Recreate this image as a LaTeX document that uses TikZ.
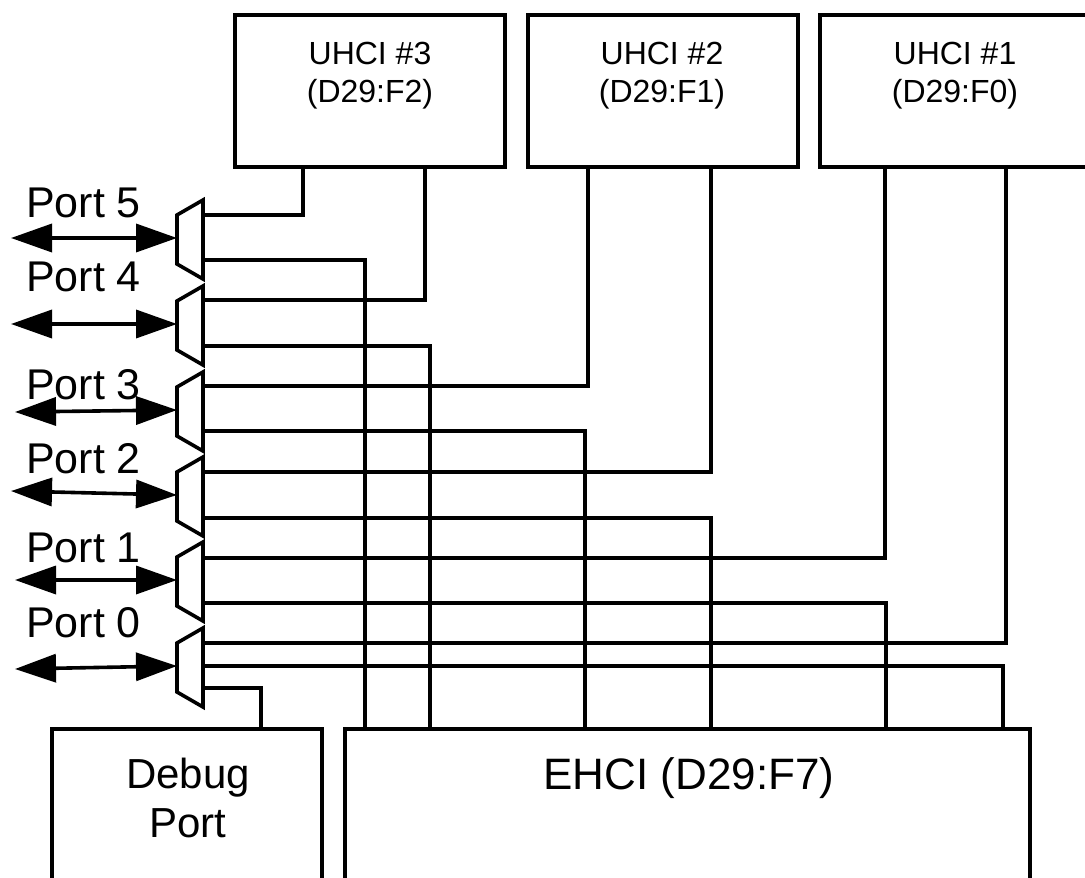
\documentclass[tikz,border=0pt]{standalone}
\usepackage{fontspec}
\setmainfont{Liberation Sans}
\usetikzlibrary{arrows.meta,calc}
\tikzset{
  x=1pt,y=-1pt,
  wire/.style={line width=3.6pt,line join=miter,black},
  boxnode/.style={draw=black,line width=4pt,anchor=north west,inner sep=0pt,outer sep=0pt,fill=none},
  port/.style={line width=3.6pt,black,{Triangle[length=41pt,width=28pt]}-{Triangle[length=41pt,width=28pt]}},
  portlabel/.style={font=\fontsize{43}{47}\selectfont,text=black,inner sep=0pt,anchor=base west},
  uhcilabel/.style={font=\fontsize{32}{38}\selectfont,text=black,align=center,inner sep=0pt},
  muxshape/.style={draw=black,line width=3.6pt,line join=miter,fill=white}
}
\newcommand{\muxat}[2]{%
  \coordinate (#1) at (177,#2);
  \draw[muxshape] ($(#1)+(0,-23)$) -- ($(#1)+(26,-38)$) -- ($(#1)+(26,41)$) -- ($(#1)+(0,26)$) -- cycle;
}
\begin{document}
\begin{tikzpicture}
\useasboundingbox (0,0) rectangle (1085,878);
\begin{scope}
\clip (0,0) rectangle (1085,878);
% boxes
\node[boxnode,minimum width=270pt,minimum height=152pt] (u3) at (235,15) {};
\node[boxnode,minimum width=270pt,minimum height=152pt] (u2) at (528,15) {};
\node[boxnode,minimum width=290pt,minimum height=152pt] (u1) at (820,15) {};
\node[boxnode,minimum width=270pt,minimum height=170pt] (dbg) at (52,729) {};
\node[boxnode,minimum width=685pt,minimum height=170pt] (eh) at (345,729) {};
\end{scope}
\node[uhcilabel] (t3) at (370,76) {UHCI \#3\\(D29:F2)};
\node[uhcilabel] (t2) at (662,76) {UHCI \#2\\(D29:F1)};
\node[uhcilabel] (t1) at (955,76) {UHCI \#1\\(D29:F0)};
\node[font=\fontsize{42}{49}\selectfont,text=black,align=center,inner sep=0pt] (t4) at (188,797.5) {Debug\\Port};
\node[font=\fontsize{44}{48}\selectfont,text=black,inner sep=0pt,anchor=base] (t5) at (689,789) {EHCI (D29:F7)};
% wire ends on the boxes
\coordinate (u3a) at (303,167);
\coordinate (u3b) at (425,167);
\coordinate (u2a) at (588,167);
\coordinate (u2b) at (711,167);
\coordinate (u1a) at (885,167);
\coordinate (u1b) at (1006,167);
\coordinate (e5) at (365,729);
\coordinate (e4) at (430,729);
\coordinate (e3) at (585,729);
\coordinate (e2) at (711,729);
\coordinate (e1) at (886,729);
\coordinate (e0) at (1003,729);
\coordinate (dbgt) at (261,729);
% wires
\coordinate (a5) at (203,215); \coordinate (b5) at (203,260);
\coordinate (a4) at (203,300); \coordinate (b4) at (203,346);
\coordinate (a3) at (203,386); \coordinate (b3) at (203,431);
\coordinate (a2) at (203,472); \coordinate (b2) at (203,518);
\coordinate (a1) at (203,558); \coordinate (b1) at (203,603);
\coordinate (a0) at (203,643); \coordinate (b0) at (203,666); \coordinate (c0) at (203,688);
\draw[wire] (a5) -| (u3a);
\draw[wire] (b5) -| (e5);
\draw[wire] (a4) -| (u3b);
\draw[wire] (b4) -| (e4);
\draw[wire] (a3) -| (u2a);
\draw[wire] (b3) -| (e3);
\draw[wire] (a2) -| (u2b);
\draw[wire] (b2) -| (e2);
\draw[wire] (a1) -| (u1a);
\draw[wire] (b1) -| (e1);
\draw[wire] (a0) -| (u1b);
\draw[wire] (b0) -| (e0);
\draw[wire] (c0) -| (dbgt);
% muxes
\muxat{m5}{238}
\muxat{m4}{324}
\muxat{m3}{410}
\muxat{m2}{495}
\muxat{m1}{580}
\muxat{m0}{666}
% port arrows
\coordinate (p5) at (11,238);
\coordinate (p4) at (11,324);
\coordinate (p3) at (15,412);
\coordinate (p2) at (11,491);
\coordinate (p1) at (15,580);
\coordinate (p0) at (15,669);
\draw[port] (p5) -- (m5);
\draw[port] (p4) -- (m4);
\draw[port] (p3) -- (m3);
\draw[port] (p2) -- (m2);
\draw[port] (p1) -- (m1);
\draw[port] (p0) -- (m0);
% port labels
\node[portlabel] (l5) at (26,217) {Port 5};
\node[portlabel] (l4) at (26,291) {Port 4};
\node[portlabel] (l3) at (26,399) {Port 3};
\node[portlabel] (l2) at (26,473) {Port 2};
\node[portlabel] (l1) at (26,562) {Port 1};
\node[portlabel] (l0) at (26,637) {Port 0};
\end{tikzpicture}
\end{document}
